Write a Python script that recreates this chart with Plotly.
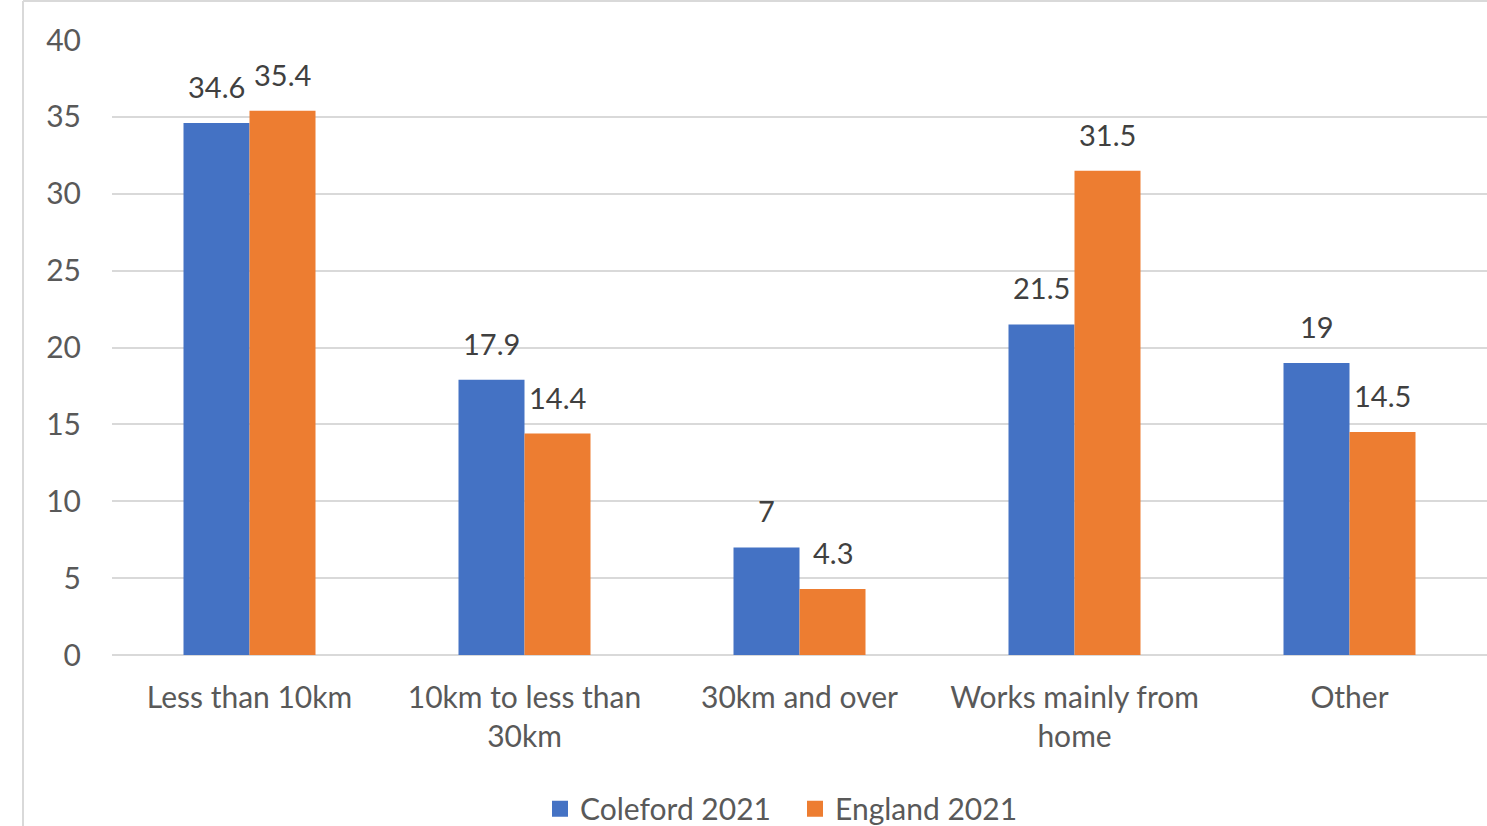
import plotly.graph_objects as go

categories = ["Less than 10km", "10km to less than<br>30km", "30km and over",
              "Works mainly from<br>home", "Other"]
coleford_2021 = [34.6, 17.9, 7, 21.5, 19]
england_2021 = [35.4, 14.4, 4.3, 31.5, 14.5]
y_ticks = [0, 5, 10, 15, 20, 25, 30, 35, 40]
series_names = ["Coleford 2021", "England 2021"]

FONT = "Lato, 'Open Sans', sans-serif"
BLUE, ORANGE = "#4472C4", "#ED7D31"

fig = go.Figure()
fig.add_trace(go.Bar(name=series_names[0], x=categories, y=coleford_2021,
                     marker=dict(color=BLUE, line=dict(width=0)), showlegend=False))
fig.add_trace(go.Bar(name=series_names[1], x=categories, y=england_2021,
                     marker=dict(color=ORANGE, line=dict(width=0)), showlegend=False))

# legend entries with larger square swatches
for name, color in zip(series_names, (BLUE, ORANGE)):
    fig.add_trace(go.Scatter(x=[None], y=[None], mode="markers", name=name,
                             marker=dict(symbol="square", size=16, color=color)))

# value labels above each bar, offset left/right to sit over its own bar
annotations = []
for series, shift in ((coleford_2021, -33), (england_2021, 33)):
    for cat, v in zip(categories, series):
        annotations.append(dict(
            x=cat, y=v, xref="x", yref="y", text=f"{v:g}", showarrow=False,
            xanchor="center", yanchor="bottom", xshift=shift, yshift=17,
            font=dict(size=29, color="#404040", family=FONT)))

L, T, W, H = 112, 40, 1487, 826
plot_w = W - L
plot_h = 655 - T

fig.update_layout(
    width=W, height=H,
    margin=dict(l=L, r=0, t=T, b=H - 655, pad=0, autoexpand=False),
    paper_bgcolor="white", plot_bgcolor="white",
    barmode="group", bargap=0.52, bargroupgap=0,
    font=dict(family=FONT, color="#595959", size=30),
    showlegend=True,
    legend=dict(orientation="h", x=(540 - L) / plot_w, xanchor="left",
                yref="container", y=0.021, yanchor="middle",
                font=dict(size=30, color="#595959"),
                entrywidth=210, entrywidthmode="pixels",
                traceorder="normal", bgcolor="rgba(0,0,0,0)"),
    annotations=annotations,
    xaxis=dict(showgrid=False, showline=False, ticks="", tickfont=dict(size=30),
               ticklabelstandoff=22, automargin=False),
    yaxis=dict(range=[0, 40], tickvals=y_ticks, showgrid=True, gridcolor="#d9d9d9",
               gridwidth=2, zeroline=True, zerolinecolor="#d9d9d9", zerolinewidth=2,
               showline=False, ticks="", tickfont=dict(size=30), ticklabelstandoff=30,
               automargin=False),
    shapes=[
        dict(type="line", xref="paper", yref="paper",
             x0=(23 - L) / plot_w, x1=(23 - L) / plot_w,
             y0=(655 - 1) / plot_h, y1=(655 - 830) / plot_h,
             line=dict(color="#d9d9d9", width=2)),
        dict(type="line", xref="paper", yref="paper",
             x0=(23 - L) / plot_w, x1=1.05,
             y0=(655 - 1) / plot_h, y1=(655 - 1) / plot_h,
             line=dict(color="#d9d9d9", width=2)),
    ],
)

fig.write_html("out.html")
